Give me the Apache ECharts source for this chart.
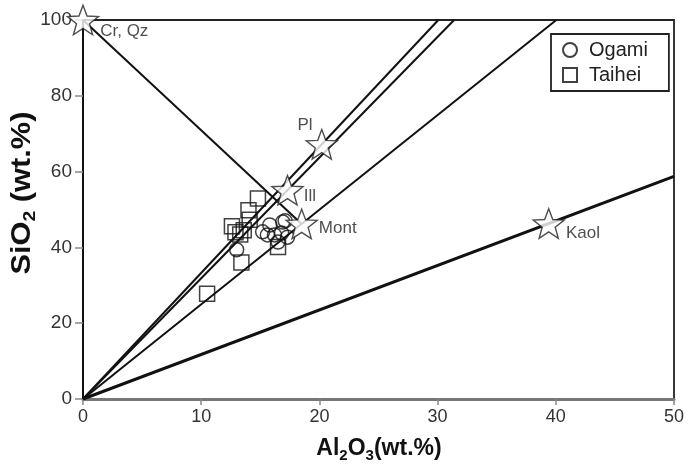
<!DOCTYPE html>
<html><head><meta charset="utf-8">
<script src="https://cdn.jsdelivr.net/npm/echarts@6/dist/echarts.min.js"></script>
<style>html,body{margin:0;padding:0;background:#fff}#c{width:688px;height:469px}</style>
</head><body><div id="c"></div>
<script>
// Axis ranges / ticks
const xMin = 0, xMax = 50, xStep = 10;
const yMin = 0, yMax = 100, yStep = 20;

// Ogami samples (Al2O3, SiO2 wt.%)
const ogamiAl = [13.0, 15.2, 15.6, 15.8, 16.2, 16.5, 16.8, 16.9, 17.3, 17.1];
const ogamiSi = [39.4, 44.1, 43.3, 45.9, 43.3, 41.4, 43.8, 46.7, 42.7, 47.0];

// Taihei samples
const taiheiAl = [10.5, 13.4, 16.5, 12.6, 12.9, 13.3, 14.0, 14.1, 14.8, 13.6];
const taiheiSi = [27.8, 36.0, 40.1, 45.6, 44.0, 43.4, 49.8, 47.3, 52.9, 44.5];

// Reference minerals
const minNames = ['Cr, Qz', 'Pl', 'Ill', 'Mont', 'Kaol'];
const minAl = [0, 20.2, 17.3, 18.5, 39.4];
const minSi = [100, 67.2, 55.1, 46.2, 46.3];

// Lines from origin through these minerals; tie line between Cr,Qz and Mont
const rayMinerals = ['Pl', 'Ill', 'Mont', 'Kaol'];
const tieLine = ['Cr, Qz', 'Mont'];

const idx = n => minNames.indexOf(n);
const zip = (a, b) => a.map((v, i) => [v, b[i]]);

const lineSeries = rayMinerals.map(n => {
  const a = minAl[idx(n)], s = minSi[idx(n)];
  const t = Math.min(xMax / a, yMax / s);
  return {
    type: 'line', silent: true, symbol: 'none', z: 2,
    data: [[0, 0], [a * t, s * t]],
    lineStyle: { color: '#111', width: n === 'Kaol' ? 3 : 2 }
  };
});
lineSeries.push({
  type: 'line', silent: true, symbol: 'none', z: 2,
  data: tieLine.map(n => [minAl[idx(n)], minSi[idx(n)]]),
  lineStyle: { color: '#111', width: 2 }
});

const labelPos = {
  'Cr, Qz': { position: 'right', offset: [-4, 11] },
  'Pl': { position: 'left', offset: [12, -19] },
  'Ill': { position: 'right', offset: [-5, 6] },
  'Mont': { position: 'right', offset: [-4, 4] },
  'Kaol': { position: 'right', offset: [-4, 10] }
};

const starPath = 'path://M50 0 L62.34 33.01 L97.55 34.55 L69.97 56.49 L79.39 90.45 L50 71 L20.61 90.45 L30.03 56.49 L2.45 34.55 L37.66 33.01 Z';

const chart = echarts.init(document.getElementById('c'), null, { renderer: 'canvas' });
chart.setOption({
  animation: false,
  backgroundColor: '#fff',
  grid: { left: 83, right: 14, top: 20, bottom: 70, show: true, borderColor: '#222', borderWidth: 1.8, backgroundColor: 'transparent' },
  xAxis: {
    type: 'value', min: xMin, max: xMax, interval: xStep,
    axisLine: { show: true, onZero: false, lineStyle: { color: '#777', width: 3 } },
    axisTick: { show: true, length: 6, lineStyle: { color: '#888', width: 1.5 } },
    axisLabel: { fontFamily: 'Liberation Sans', fontSize: 18, color: '#333', margin: 9 },
    splitLine: { show: false }
  },
  yAxis: {
    type: 'value', min: yMin, max: yMax, interval: yStep,
    axisLine: { show: true, onZero: false, lineStyle: { color: '#111', width: 2 } },
    axisTick: { show: true, length: 8, lineStyle: { color: '#888', width: 1.5 } },
    axisLabel: { fontFamily: 'Liberation Sans', fontSize: 19, color: '#333', margin: 11 },
    splitLine: { show: false }
  },
  legend: {
    orient: 'vertical', left: 551, top: 34,
    borderColor: '#222', borderWidth: 1.8, borderRadius: 0,
    padding: [6, 21, 6, 11], itemWidth: 14, itemHeight: 14, itemGap: 5,
    textStyle: { fontFamily: 'Liberation Sans', fontSize: 20, color: '#222', padding: [0, 0, 0, 7] },
    data: [{ name: 'Ogami', icon: 'circle' }, { name: 'Taihei', icon: 'rect' }]
  },
  series: [
    ...lineSeries,
    {
      name: 'Ogami', type: 'scatter', symbol: 'circle', symbolSize: 14, z: 3,
      data: zip(ogamiAl, ogamiSi),
      itemStyle: { color: 'rgba(255,255,255,0)', borderColor: '#111', borderWidth: 1.5 }
    },
    {
      name: 'Taihei', type: 'scatter', symbol: 'rect', symbolSize: 15, z: 3,
      data: zip(taiheiAl, taiheiSi),
      itemStyle: { color: 'rgba(255,255,255,0)', borderColor: '#111', borderWidth: 1.5 }
    },
    {
      type: 'scatter', symbol: starPath, symbolSize: 31, symbolKeepAspect: true, z: 4, silent: true,
      data: minNames.map((n, i) => ({
        name: n, value: [minAl[i], minSi[i]],
        label: Object.assign({ show: true, formatter: '{b}', fontFamily: 'Liberation Sans', fontSize: 17, color: '#222' }, labelPos[n])
      })),
      itemStyle: { color: '#fff', borderColor: '#222', borderWidth: 1.4 }
    }
  ],
  graphic: [
    {
      type: 'text', x: 23, y: 193, rotation: Math.PI / 2, scaleX: 1.14, z: 10,
      style: {
        text: '{b|SiO}{s|2}{b| (wt.%)}', align: 'center', verticalAlign: 'middle', fill: '#111',
        rich: {
          b: { fontFamily: 'Liberation Sans', fontWeight: 'bold', fontSize: 27, lineHeight: 32, fill: '#111' },
          s: { fontFamily: 'Liberation Sans', fontWeight: 'bold', fontSize: 17, lineHeight: 17, padding: [14, 0, 0, 0], verticalAlign: 'bottom', fill: '#111' }
        }
      }
    },
    {
      type: 'text', x: 379, y: 449, z: 10,
      style: {
        text: '{b|Al}{s|2}{b|O}{s|3}{b|(wt.%)}', align: 'center', verticalAlign: 'middle', fill: '#111',
        rich: {
          b: { fontFamily: 'Liberation Sans', fontWeight: 'bold', fontSize: 23, lineHeight: 28, fill: '#111' },
          s: { fontFamily: 'Liberation Sans', fontWeight: 'bold', fontSize: 15, lineHeight: 15, padding: [12, 0, 0, 0], verticalAlign: 'bottom', fill: '#111' }
        }
      }
    }
  ]
});
</script>
</body></html>
